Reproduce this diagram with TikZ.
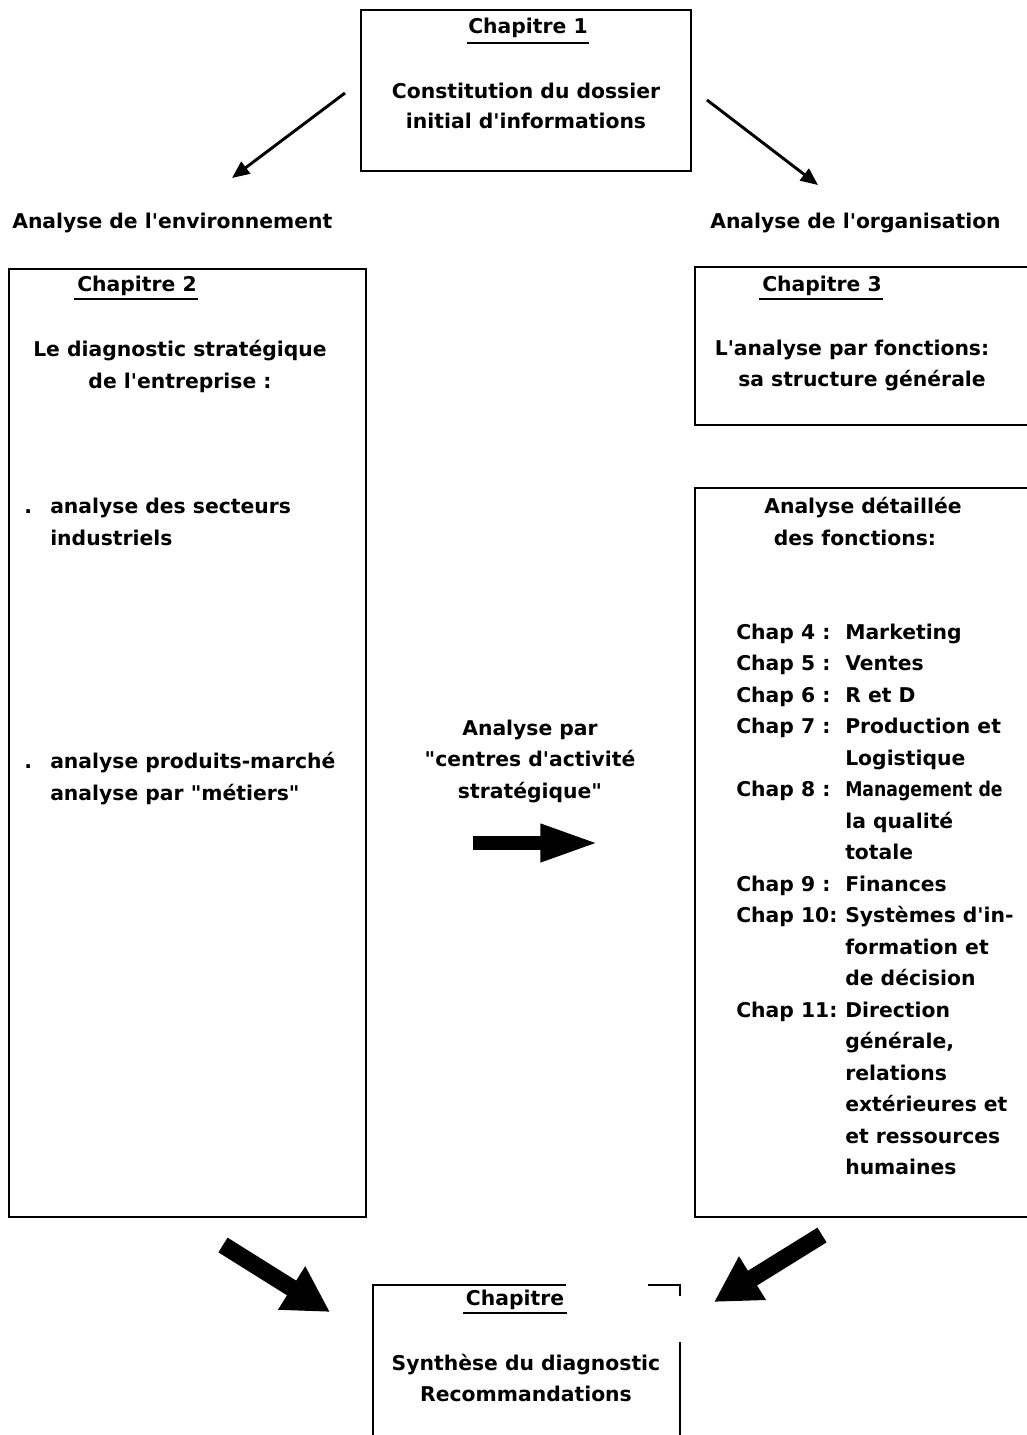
\documentclass[tikz,border=0pt]{standalone}
\usepackage{fontspec}
\usepackage{graphicx}
\setmainfont{DejaVu Sans}[Ligatures=TeXOff]
\usetikzlibrary{arrows.meta,fit}
\begin{document}
\begin{tikzpicture}[x=0.75pt,y=-0.75pt,
  txt/.style={font=\bfseries\fontsize{15.25}{23.6}\selectfont, inner sep=0pt},
  box/.style={draw, line width=2.2pt, inner sep=0pt, rectangle},
  edge/.style={line width=2.2pt},
  uline/.style={line width=2.2pt},
  thinarrow/.style={line width=2.2pt, -{Triangle[length=13pt,width=11pt]}},
  fatarrow/.style={line width=10pt, -{Triangle[length=44pt,width=26pt]}},
  bigarrow/.style={line width=13pt, -{Triangle[length=34pt,width=36pt]}}]
\useasboundingbox (0,0) rectangle (1027,1435);
\clip (0,0) rectangle (1027,1435);
\fill[white] (0,0) rectangle (1027,1435);

% box corners
\coordinate (b1a) at (361,10);  \coordinate (b1b) at (691,171);
\coordinate (b2a) at (9,269);   \coordinate (b2b) at (366,1217);
\coordinate (b3a) at (695,267); \coordinate (b3b) at (1040,425);
\coordinate (b4a) at (695,488); \coordinate (b4b) at (1040,1217);
\node[box, fit=(b1a)(b1b)] (box1) {};
\node[box, fit=(b2a)(b2b)] (box2) {};
\node[box, fit=(b3a)(b3b)] (box3) {};
\node[box, fit=(b4a)(b4b)] (box4) {};

% Chapitre 1
\node[txt, anchor=base] (h1) at (528,33) {Chapitre 1};
\draw[uline] ([yshift=-7.5pt,xshift=-1pt]h1.base west) -- ([yshift=-7.5pt,xshift=1pt]h1.base east);
\node[txt, anchor=base] (t1a) at (526,98) {Constitution du dossier};
\node[txt, anchor=base] (t1b) at (526,128) {initial d'informations};

% side labels
\node[txt, anchor=base west] (lenv) at (12,228) {Analyse de l'environnement};
\node[txt, anchor=base west] (lorg) at (710,228) {Analyse de l'organisation};

% thin arrows
\coordinate (a1s) at (345,93);  \coordinate (a1e) at (232,178);
\coordinate (a2s) at (707,100); \coordinate (a2e) at (818,185);
\draw[thinarrow] (a1s) -- (a1e);
\draw[thinarrow] (a2s) -- (a2e);

% Chapitre 2
\node[txt, anchor=base] (h2) at (137,291) {Chapitre 2};
\draw[uline] ([yshift=-6pt,xshift=-2pt]h2.base west) -- ([yshift=-6pt,xshift=1pt]h2.base east);
\node[txt, anchor=base] (t2a) at (180,356) {Le diagnostic stratégique};
\node[txt, anchor=base] (t2b) at (180,388) {de l'entreprise :};
\node[txt, anchor=base west] (d1) at (24,513) {.};
\node[txt, anchor=base west] (s1a) at (50,513) {analyse des secteurs};
\node[txt, anchor=base west] (s1b) at (50,545) {industriels};
\node[txt, anchor=base west] (d2) at (24,768) {.};
\node[txt, anchor=base west] (s2a) at (50,768) {analyse produits-marché};
\node[txt, anchor=base west] (s2b) at (50,800) {analyse par "métiers"};

% Chapitre 3
\node[txt, anchor=base] (h3) at (822,291) {Chapitre 3};
\draw[uline] ([yshift=-6pt,xshift=-2pt]h3.base west) -- ([yshift=-6pt,xshift=1pt]h3.base east);
\node[txt, anchor=base] (t3a) at (852,355) {L'analyse par fonctions:};
\node[txt, anchor=base] (t3b) at (862,386) {sa structure générale};

% detailed analysis
\node[txt, anchor=base] (t4a) at (863,513) {Analyse détaillée};
\node[txt, anchor=base] (t4b) at (855,545) {des fonctions:};
\foreach \c/\t [count=\i from 0] in {{Chap 4 :}/Marketing, {Chap 5 :}/Ventes, {Chap 6 :}/{R et D}, {Chap 7 :}/{Production et}, {}/Logistique, {Chap 8 :}/{\scalebox{0.85}[1]{Management de}}, {}/{la qualité}, {}/totale, {Chap 9 :}/Finances, {Chap 10:}/{Systèmes d'in-}, {}/{formation et}, {}/{de décision}, {Chap 11:}/Direction, {}/{générale,}, {}/relations, {}/{extérieures et}, {}/{et ressources}, {}/humaines}{
  \node[txt, anchor=base west] (c\i) at (736,{639+31.5*\i}) {\c};
  \node[txt, anchor=base west] (f\i) at (845,{639+31.5*\i}) {\t};
}

% middle
\node[txt, anchor=base] (m1) at (530,735) {Analyse par};
\node[txt, anchor=base] (m2) at (530,766) {"centres d'activité};
\node[txt, anchor=base] (m3) at (530,798) {stratégique"};
\coordinate (ms) at (473,843); \coordinate (me) at (599,843);
\draw[fatarrow] (ms) -- (me);

% bottom box
\coordinate (p1) at (373,1440); \coordinate (p2) at (373,1285);
\coordinate (p3) at (566,1285); \coordinate (p4) at (648,1285);
\coordinate (p5) at (680,1285); \coordinate (p6) at (680,1296);
\coordinate (p7) at (680,1342); \coordinate (p8) at (680,1440);
\draw[edge] (p1) -- (p2) -- (p3);
\draw[edge] (p4) -- (p5) -- (p6);
\draw[edge] (p7) -- (p8);
\node[txt, anchor=base] (h5) at (515,1305) {Chapitre};
\draw[uline] ([yshift=-6pt,xshift=-2pt]h5.base west) -- ([yshift=-6pt,xshift=2pt]h5.base east);
\node[txt, anchor=base] (t5a) at (526,1370) {Synthèse du diagnostic};
\node[txt, anchor=base] (t5b) at (526,1401) {Recommandations};

% bottom arrows
\coordinate (l1s) at (223,1245); \coordinate (l1e) at (330,1312);
\coordinate (r1s) at (822,1235); \coordinate (r1e) at (714,1302);
\draw[bigarrow] (l1s) -- (l1e);
\draw[bigarrow] (r1s) -- (r1e);
\end{tikzpicture}
\end{document}
